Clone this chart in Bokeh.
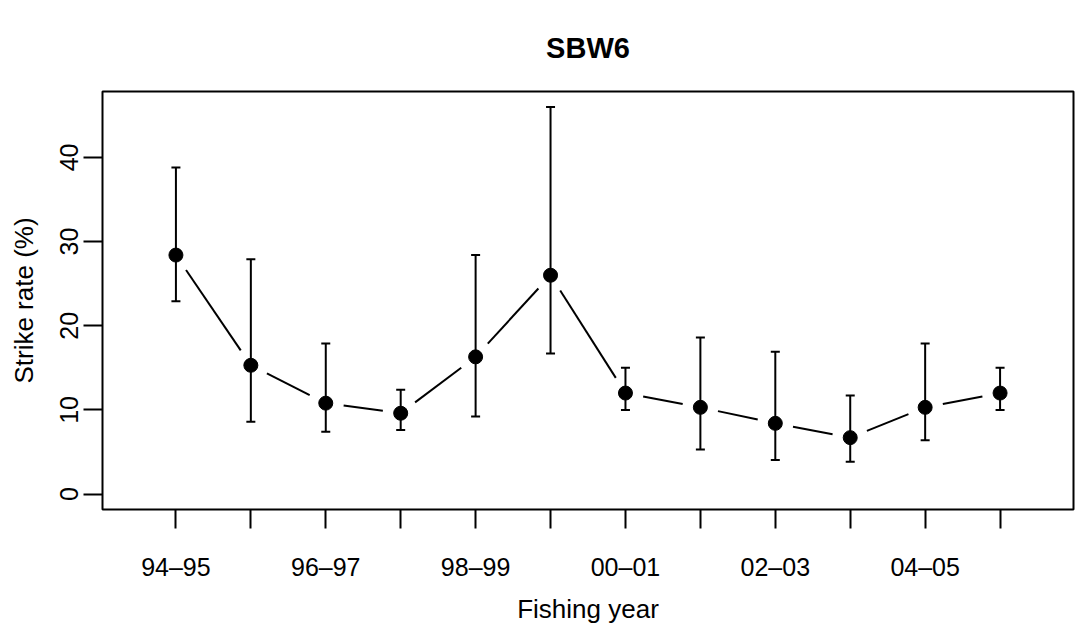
import math
from bokeh.plotting import figure
from bokeh.models import Range1d, FixedTicker, Whisker, ColumnDataSource, TeeHead
from bokeh.embed import file_html
from bokeh.resources import INLINE

# ---- data ----
years = ["94–95", "95–96", "96–97", "97–98", "98–99", "99–00",
         "00–01", "01–02", "02–03", "03–04", "04–05", "05–06"]
rate = [28.4, 15.3, 10.8, 9.6, 16.3, 26.0, 12.0, 10.3, 8.4, 6.7, 10.3, 12.0]
upper = [38.8, 27.9, 17.9, 12.4, 28.4, 46.0, 15.0, 18.6, 16.9, 11.7, 17.9, 15.0]
lower = [22.9, 8.6, 7.4, 7.6, 9.2, 16.7, 10.0, 5.3, 4.05, 3.85, 6.4, 10.0]
y_ticks = [0, 10, 20, 30, 40]

xs = list(range(1, len(years) + 1))

FONT = "Liberation Sans"
FW, FH = 971, 418
x0, x1 = 0.02, len(years) + 0.98
y0, y1 = -0.04 * max(upper), 1.04 * max(upper)

p = figure(frame_width=FW, frame_height=FH,
           x_range=Range1d(x0, x1), y_range=Range1d(y0, y1),
           output_backend="svg", toolbar_location=None,
           min_border_left=102, min_border_right=2,
           min_border_top=91, min_border_bottom=122,
           title="SBW6")
p.background_fill_color = "white"
p.border_fill_color = "white"
p.grid.visible = False
p.outline_line_color = "black"
p.outline_line_width = 2

p.title.align = "center"
p.title.text_font = FONT
p.title.text_font_size = "29px"
p.title.text_font_style = "bold"
p.title.text_color = "black"
p.title.standoff = 56

# axes
xa = p.xaxis[0]
xa.ticker = FixedTicker(ticks=xs)
xa.major_label_overrides = {x: (lab if i % 2 == 0 else "") for i, (x, lab) in enumerate(zip(xs, years))}
xa.axis_label = "Fishing year"
ya = p.yaxis[0]
ya.ticker = FixedTicker(ticks=y_ticks)
ya.axis_label = "Strike rate (%)"
ya.major_label_orientation = "vertical"

for ax in (xa, ya):
    ax.axis_line_color = None
    ax.major_tick_line_color = "black"
    ax.major_tick_line_width = 2
    ax.major_tick_out = 19
    ax.major_tick_in = 0
    ax.minor_tick_line_color = None
    ax.major_label_text_font = FONT
    ax.major_label_text_font_size = "25px"
    ax.major_label_text_color = "black"
    ax.axis_label_text_font = FONT
    ax.axis_label_text_font_size = "26px"
    ax.axis_label_text_font_style = "normal"
    ax.axis_label_text_color = "black"

xa.major_label_standoff = 24
xa.axis_label_standoff = 10
ya.major_label_standoff = 5
ya.axis_label_standoff = 19

# connecting line with gaps around the points (R type = "b")
sx = FW / (x1 - x0)
sy = FH / (y1 - y0)
gap = 18.0
seg = dict(xa=[], ya=[], xb=[], yb=[])
for i in range(len(xs) - 1):
    dxp = (xs[i + 1] - xs[i]) * sx
    dyp = (rate[i + 1] - rate[i]) * sy
    L = math.hypot(dxp, dyp)
    if L <= 2 * gap:
        continue
    f = gap / L
    seg["xa"].append(xs[i] + (xs[i + 1] - xs[i]) * f)
    seg["ya"].append(rate[i] + (rate[i + 1] - rate[i]) * f)
    seg["xb"].append(xs[i + 1] - (xs[i + 1] - xs[i]) * f)
    seg["yb"].append(rate[i + 1] - (rate[i + 1] - rate[i]) * f)
p.segment(x0="xa", y0="ya", x1="xb", y1="yb", source=ColumnDataSource(seg),
          line_color="black", line_width=2)

# error bars
src = ColumnDataSource(dict(x=xs, y=rate, up=upper, lo=lower))
wh = Whisker(base="x", upper="up", lower="lo", source=src, dimension="height",
             line_color="black", line_width=2,
             upper_head=TeeHead(size=9, line_color="black", line_width=2),
             lower_head=TeeHead(size=9, line_color="black", line_width=2))
p.add_layout(wh)

# points
p.scatter(x="x", y="y", source=src, size=14, marker="circle",
          fill_color="black", line_color="black")

open("out.html", "w").write(file_html(p, INLINE))
